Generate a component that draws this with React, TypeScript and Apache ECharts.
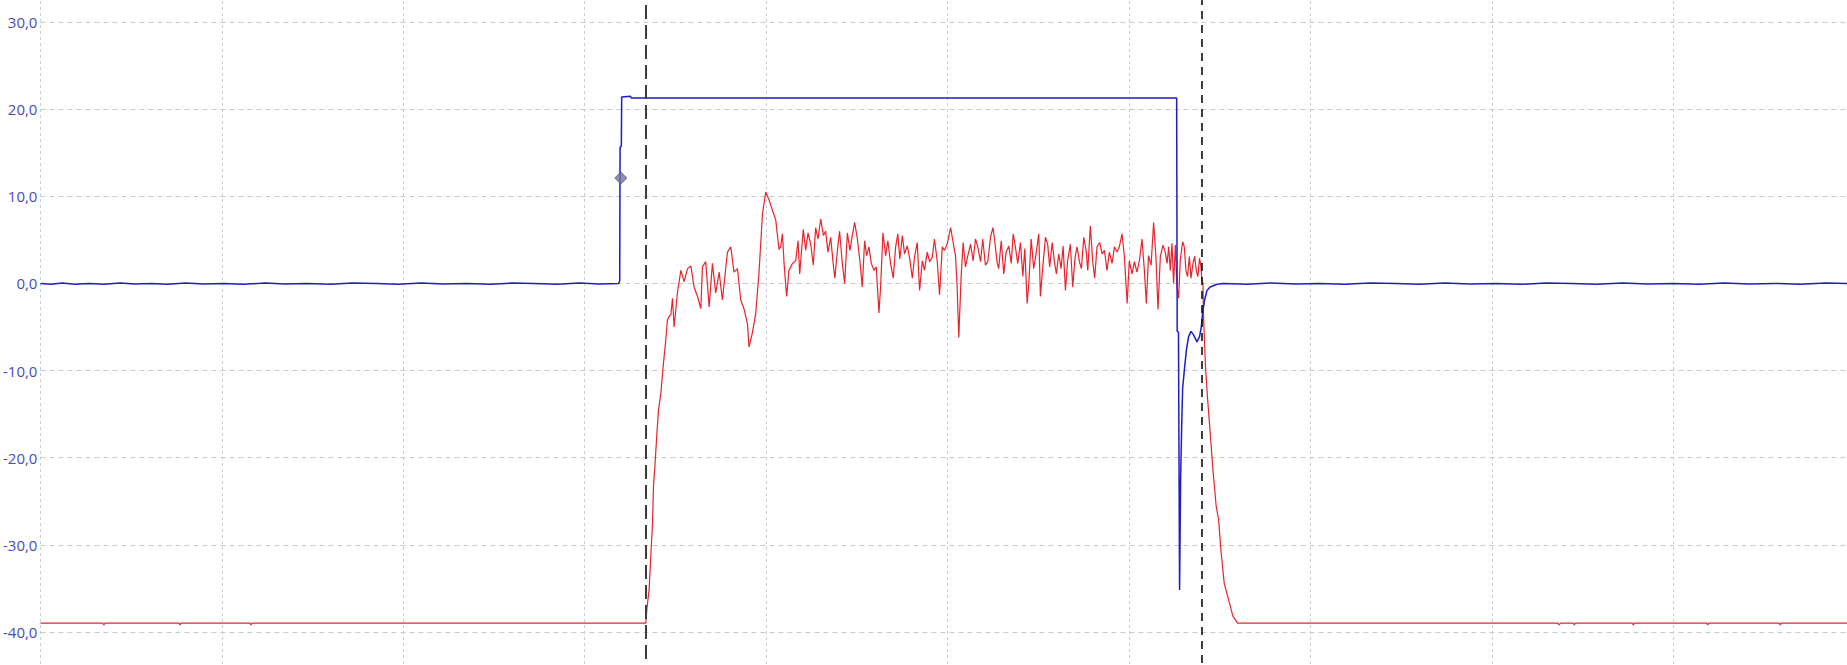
import { useEffect, useRef } from "react";
import * as echarts from "echarts";

// time axis in ms (one grid division = 100 ms), values in the channel's unit
const timeRange = { min: 0, max: 995.8, step: 100 };
const valueRange = { min: -50, max: 40, step: 10 };

const cursorTimes = [333.7, 640.4];
const triggerPoint: [number, number] = [319.9, 12.1];

const blueTrace: [number, number][] = [
  [0, 0.0], [6, -0.1], [12, 0.05], [19, -0.1], [27, 0.0], [35, -0.1], [44, 0.05], [52, -0.05],
  [61, 0.0], [70, -0.1], [80, 0.05], [90, -0.05], [101, 0.0], [112, -0.1], [124, 0.05], [135, -0.05],
  [147, 0.0], [160, -0.1], [172, 0.05], [185, 0.0], [197, -0.1], [210, 0.05], [222, -0.05], [235, 0.0],
  [248, -0.1], [260, 0.05], [272, 0.0], [285, -0.1], [297, 0.05], [308, -0.05], [318.8, 0.0],
  [319.3, 0.3], [319.5, 15.6], [320.2, 15.8], [320.4, 21.4], [325.3, 21.5], [325.6, 21.3],
  [626.3, 21.3], [626.6, -5.5], [627.3, -5.6], [627.9, -35.2], [628.5, -22.2], [629.1, -16.1],
  [629.6, -12.0], [630.7, -9.6], [631.7, -7.6], [632.9, -6.1], [634.2, -5.5], [635.6, -5.9],
  [637.5, -6.7], [638.9, -6.1], [639.9, -5.0], [640.6, -3.4], [641.7, -1.9], [643.0, -0.8],
  [644.8, -0.4], [648.6, -0.1], [652, 0.0], [665, -0.1], [678, 0.05], [692, -0.05], [705, 0.0],
  [719, -0.1], [733, 0.05], [747, 0.0], [760, -0.1], [774, 0.05], [788, -0.05], [802, 0.0],
  [816, -0.1], [830, 0.05], [844, 0.0], [858, -0.1], [872, 0.05], [886, -0.05], [900, 0.0],
  [914, -0.1], [928, 0.05], [942, -0.05], [956, 0.0], [970, -0.1], [984, 0.05], [995.8, 0.0],
];

const redTrace: [number, number][] = [
  [0, -39.0], [34.5, -39.0], [35, -39.2], [35.5, -39.0], [76.5, -39.0], [77, -39.2], [77.5, -39.0],
  [115.5, -39.0], [116, -39.2], [116.5, -39.0], [333.7, -39.0],
  [334.3, -37.3], [335.5, -35.2], [336.5, -31.0], [337.4, -27.5], [337.9, -23.3], [338.7, -21.0],
  [339.8, -17.2], [340.7, -14.5], [342.0, -12.6], [343.2, -9.6], [343.8, -8.4], [344.7, -6.5],
  [345.6, -4.2], [346.5, -3.8], [347.5, -3.6], [348.4, -1.7], [349.3, -5.0], [351.1, -1.1],
  [353.0, 1.5], [354.8, 0.2], [356.7, 1.7], [358.5, 2.0], [360.3, -0.4], [362.2, -1.5],
  [364.0, -2.9], [364.9, 1.9], [366.7, 2.5], [368.6, -2.7], [370.4, 2.3], [372.2, -1.1],
  [374.1, 1.3], [375.9, -1.9], [378.7, 3.6], [380.5, 4.2], [382.3, 1.3], [384.2, 1.7],
  [386.0, -1.9], [387.8, -2.9], [389.7, -4.6], [390.6, -7.3], [392.4, -5.7], [394.3, -3.4],
  [396.1, 1.3], [398.0, 8.0], [399.8, 10.5], [401.6, 9.6], [403.5, 8.4], [405.3, 7.3],
  [407.1, 3.9], [408.0, 4.2], [409.0, 5.7], [409.9, 2.3], [411.3, -1.5], [412.6, 1.5],
  [414.5, 2.3], [416.3, 2.6], [417.6, 4.9], [418.5, 1.1], [420.5, 6.2], [421.8, 3.8],
  [423.1, 5.8], [424.6, 4.5], [426.0, 2.1], [427.3, 6.4], [428.6, 5.1], [430.1, 7.4],
  [431.6, 5.5], [432.8, 6.0], [434.1, 3.6], [435.6, 5.3], [436.8, 2.6], [437.9, 0.6],
  [439.3, 3.8], [440.5, 6.0], [442.0, 2.3], [443.3, 0.0], [444.8, 5.8], [446.2, 3.8],
  [447.5, 5.5], [448.8, 7.0], [450.3, 5.1], [451.7, 2.6], [453.0, -0.4], [454.3, 4.9],
  [455.4, 3.2], [456.7, 4.2], [458.0, 2.3], [459.4, 1.5], [460.7, 1.9], [462.2, -3.4],
  [463.1, -0.4], [464.4, 5.8], [465.9, 3.2], [467.1, 4.9], [468.6, 2.3], [470.1, 0.6],
  [471.4, 4.2], [472.6, 5.7], [473.7, 2.8], [475.1, 5.5], [476.3, 3.4], [477.8, 4.3],
  [479.2, 2.8], [480.6, 0.6], [481.8, 3.0], [483.3, 4.7], [484.6, -0.8], [486.1, 2.6],
  [487.3, 1.5], [488.8, 3.6], [490.1, 2.5], [491.6, 3.0], [492.8, 5.1], [494.3, 2.6],
  [495.6, -1.3], [497.1, 4.2], [498.3, 3.8], [499.8, 4.5], [501.7, 6.4], [503.1, 4.7],
  [504.4, 3.2], [505.3, -0.4], [506.2, -6.2], [507.5, 0.8], [508.6, 4.7], [509.9, 1.9],
  [511.2, 3.2], [512.7, 4.5], [514.1, 2.6], [515.4, 5.1], [516.7, 4.2], [518.2, 2.5],
  [519.4, 5.1], [520.9, 2.1], [522.2, 2.5], [523.7, 5.3], [525.0, 6.4], [525.9, 5.1],
  [527.4, 2.3], [528.2, 1.7], [529.6, 4.9], [531.0, 1.1], [532.3, 3.6], [533.8, 4.3],
  [535.1, 2.3], [536.2, 5.7], [537.4, 4.2], [538.7, 2.3], [540.2, 4.7], [541.5, 0.8],
  [542.6, 4.0], [543.9, -2.3], [544.8, 0.0], [546.1, 5.1], [547.5, 1.7], [548.8, 3.4],
  [550.3, 5.7], [551.2, -1.5], [552.5, 1.9], [554.0, 5.3], [555.2, 4.5], [556.3, 1.9],
  [557.7, 4.7], [558.9, 2.5], [560.0, 1.1], [561.3, 3.4], [562.6, 1.7], [563.7, 4.3],
  [565.0, -0.8], [566.2, 2.6], [567.7, 4.5], [569.0, -0.4], [570.3, 3.0], [571.4, 4.2],
  [572.7, 2.5], [573.8, 1.7], [575.1, 5.3], [576.4, 3.8], [577.3, 1.5], [578.7, 6.6],
  [580.0, 2.6], [581.1, 0.6], [582.4, 4.2], [583.9, 4.7], [585.2, 3.4], [586.5, 3.8],
  [587.9, 1.5], [589.2, 3.6], [590.7, 2.3], [592.0, 4.2], [593.4, 3.6], [594.7, 4.2],
  [596.2, 5.7], [597.5, 3.0], [599.0, -2.3], [600.2, 2.6], [601.7, 1.1], [603.0, 2.5],
  [604.4, 1.3], [605.9, 2.8], [607.2, 5.1], [608.5, 1.5], [609.6, -2.3], [610.8, 3.2],
  [612.2, 2.1], [613.6, 7.0], [614.9, 3.0], [616.0, -3.0], [617.3, 3.1], [618.8, 4.4],
  [620.0, 3.6], [621.0, 2.3], [621.9, 4.2], [622.8, 1.5], [623.7, 4.6], [624.6, 0.0],
  [625.6, 4.4], [626.5, -0.4], [627.4, -1.7], [628.3, 2.7], [629.6, 4.8], [630.5, 4.2],
  [631.4, 1.5], [632.3, 0.8], [633.3, 3.1], [634.2, 0.6], [635.3, 2.3], [636.2, 3.1],
  [637.1, 1.5], [638.0, 0.8], [638.9, 2.9], [639.7, 1.9], [640.2, 0.4], [640.8, 0.0],
  [641.1, -3.8], [642.2, -9.6], [643.4, -13.4], [644.8, -17.2], [646.3, -21.4], [648.1, -25.6],
  [649.4, -27.1], [650.7, -30.6], [652.5, -34.4], [654.9, -36.3], [657.3, -38.2], [659.9, -39.0],
  [836.5, -39.0], [837, -39.2], [838, -39.0], [845, -39.0], [845.5, -39.2], [846, -39.0],
  [877.5, -39.0], [878, -39.2], [878.5, -39.0], [918.5, -39.0], [919, -39.2], [919.5, -39.0],
  [958.5, -39.0], [959, -39.2], [959.5, -39.0], [995.8, -39.0],
];

export default function App() {
  const chartRef = useRef<HTMLDivElement | null>(null);

  useEffect(() => {
    if (!chartRef.current) return;
    const chart = echarts.init(chartRef.current, undefined, { renderer: "svg" });
    chart.setOption({
      animation: false,
      backgroundColor: "#ffffff",
      grid: { left: 39, right: 0, top: 0, bottom: 0 },
      xAxis: {
        type: "value",
        min: timeRange.min,
        max: timeRange.max,
        interval: timeRange.step,
        axisLine: { show: false },
        axisTick: { show: false },
        axisLabel: { show: false },
        splitLine: {
          show: true,
          showMaxLine: false,
          lineStyle: { color: "#c3d0d8", type: [3, 3], width: 1 },
        },
      },
      yAxis: {
        type: "value",
        min: valueRange.min,
        max: valueRange.max,
        interval: valueRange.step,
        axisLine: { show: false },
        axisTick: { show: false },
        axisLabel: {
          showMinLabel: false,
          showMaxLabel: false,
          margin: 3,
          color: "#4b4bbf",
          fontSize: 15,
          fontFamily: "Open Sans",
          formatter: (v: number) => v.toFixed(1).replace(".", ","),
        },
        splitLine: {
          show: true,
          showMinLine: false,
          showMaxLine: false,
          lineStyle: { color: "#c8c8c8", type: [5, 4], width: 1 },
        },
      },
      series: [
        {
          name: "ch2",
          type: "line",
          data: redTrace,
          showSymbol: false,
          lineStyle: { color: "#e8232d", width: 1.2 },
          z: 2,
        },
        {
          name: "ch1",
          type: "line",
          data: blueTrace,
          showSymbol: false,
          lineStyle: { color: "#1e1ec4", width: 1.5 },
          z: 3,
        },
        {
          name: "trigger",
          type: "scatter",
          data: [triggerPoint],
          symbol: "diamond",
          symbolSize: 12,
          itemStyle: { color: "#72729a", borderColor: "#50507a", borderWidth: 1 },
          z: 4,
        },
        {
          name: "cursors",
          type: "line",
          data: [],
          z: 5,
          markLine: {
            silent: true,
            symbol: "none",
            label: { show: false },
            data: [
              { xAxis: cursorTimes[0], lineStyle: { color: "#3c3c3c", width: 2, type: [14, 6] } },
              { xAxis: cursorTimes[1], lineStyle: { color: "#111111", width: 1.6, type: [8, 6] } },
            ],
          },
        },
      ],
    });
    const onResize = () => chart.resize();
    window.addEventListener("resize", onResize);
    return () => {
      window.removeEventListener("resize", onResize);
      chart.dispose();
    };
  }, []);

  // the plot area runs past the window so the 40 and -50 ticks stay out of view
  return (
    <div style={{ position: "fixed", left: 0, top: 0, width: 1847, height: 665, overflow: "hidden" }}>
      <div
        ref={chartRef}
        style={{ position: "absolute", left: 0, top: -65.1, width: 1847, height: 784.2 }}
      />
    </div>
  );
}
